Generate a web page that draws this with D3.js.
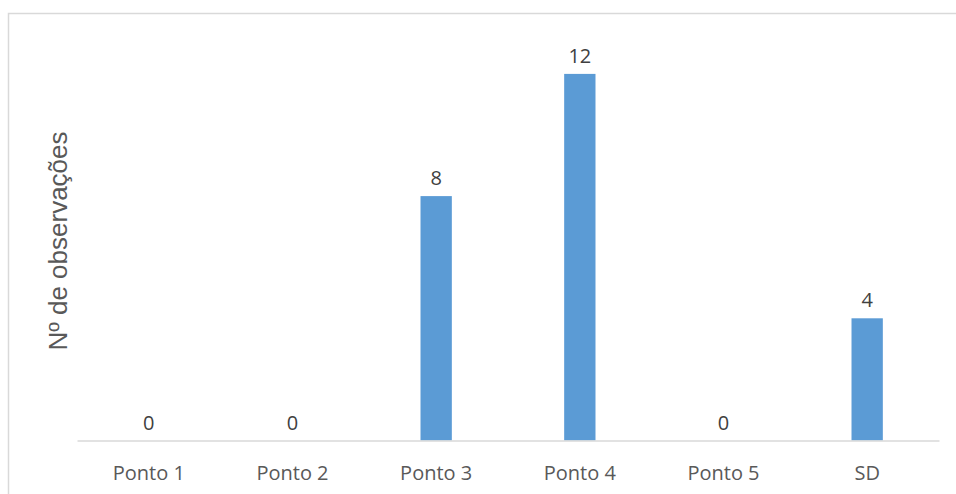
<!DOCTYPE html>
<html>
<head>
<meta charset="utf-8">
<script src="https://cdn.jsdelivr.net/npm/d3@7"></script>
<style>
  body { margin: 0; background: #fff; }
</style>
</head>
<body>
<div id="chart"></div>
<script>
const categories = ["Ponto 1", "Ponto 2", "Ponto 3", "Ponto 4", "Ponto 5", "SD"];
const values = [0, 0, 8, 12, 0, 4];
const yMax = 14;

const width = 956, height = 494;
const plot = { left: 77, right: 939, top: 12.8, bottom: 440.5 };

const svg = d3.select("#chart")
    .append("svg")
    .attr("width", width)
    .attr("height", height);

// frame (only top and left edges are visible)
svg.append("path")
    .attr("d", `M8.5,${height} V13.5 H${width}`)
    .attr("fill", "none")
    .attr("stroke", "#d9d9d9")
    .attr("stroke-width", 1.5);

const xScale = d3.scaleBand()
    .domain(categories)
    .range([plot.left, plot.right])
    .paddingInner(0.782)
    .paddingOuter(0.391);

const yScale = d3.scaleLinear()
    .domain([0, yMax])
    .range([plot.bottom, plot.top]);

svg.append("g")
    .attr("fill", "#5b9bd5")
    .selectAll("rect")
    .data(values)
    .join("rect")
    .attr("x", (d, i) => xScale(categories[i]))
    .attr("y", d => yScale(d))
    .attr("width", xScale.bandwidth())
    .attr("height", d => yScale(0) - yScale(d));

// x axis
const xAxis = svg.append("g")
    .attr("transform", `translate(0,${plot.bottom})`)
    .call(d3.axisBottom(xScale).tickSize(0).tickPadding(25));
xAxis.select(".domain")
    .attr("stroke", "#d9d9d9")
    .attr("stroke-width", 1.5);
xAxis.selectAll("text")
    .attr("fill", "#595959")
    .attr("font-family", "Open Sans")
    .attr("font-size", "20px")
    .attr("dy", "0.71em");

// value labels
svg.append("g")
    .selectAll("text")
    .data(values)
    .join("text")
    .attr("x", (d, i) => xScale(categories[i]) + xScale.bandwidth() / 2)
    .attr("y", d => yScale(d) - 11)
    .attr("text-anchor", "middle")
    .attr("fill", "#404040")
    .attr("font-family", "Open Sans")
    .attr("font-size", "20px")
    .text(d => d);

// y title
svg.append("text")
    .attr("transform", `translate(67,241) rotate(-90)`)
    .attr("text-anchor", "middle")
    .attr("fill", "#595959")
    .attr("font-family", "Liberation Sans, Arial")
    .attr("font-size", "26px")
    .text("Nº de observações");
</script>
</body>
</html>
